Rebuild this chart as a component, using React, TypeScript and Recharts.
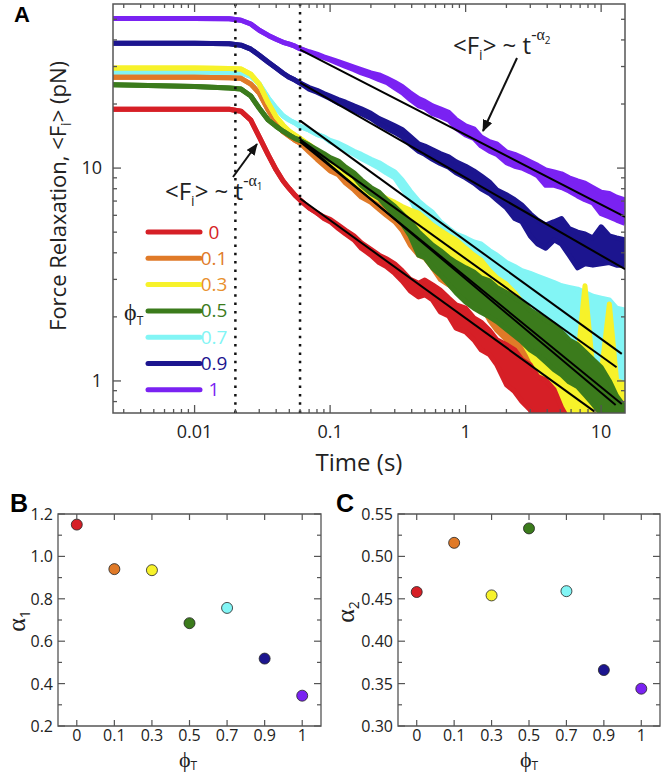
import React from "react";
import {
  ComposedChart,
  Area,
  Line,
  XAxis,
  YAxis,
  ReferenceLine,
  ReferenceArea,
  ScatterChart,
  Scatter,
} from "recharts";

// ---------- data ----------
const times = [
  0.0025, 0.01, 0.018, 0.022, 0.026, 0.03, 0.035, 0.04, 0.045, 0.05,
  0.055, 0.06, 0.07, 0.08, 0.09, 0.1, 0.115, 0.13, 0.15, 0.17,
  0.2, 0.23, 0.26, 0.3, 0.34, 0.39, 0.45, 0.5, 0.57, 0.65,
  0.75, 0.85, 1.0, 1.15, 1.3, 1.5, 1.7, 2.0, 2.3, 2.6,
  3.0, 3.4, 3.9, 4.5, 5.1, 5.8, 6.7, 7.6, 8.7, 10,
  11.5, 13, 15,
];

// phi_T = 0 (red)
const f0Hi = [
  18.9, 18.9, 18.9, 18.5, 16.8, 14.0, 11.5, 9.8, 8.7, 8.0,
  7.46, 7.08, 6.5, 6.15, 5.9, 5.75, 5.4, 5.1, 4.8, 4.45,
  4.15, 3.9, 3.75, 3.55, 3.3, 3.0, 2.88, 2.98, 2.83, 2.67,
  2.45, 2.28, 2.2, 1.98, 1.89, 1.73, 1.56, 1.48, 1.4, 1.26,
  1.19, 1.05, 1.01, 0.91, 0.75, 0.65, 0.6, 0.6, 0.6, 0.6,
  0.6, 0.6, 0.6,
];
const f0Lo = [
  18.9, 18.9, 18.9, 18.5, 16.8, 14.0, 11.5, 9.8, 8.7, 8.0,
  7.46, 7.08, 6.5, 6.15, 5.8, 5.6, 5.2, 4.9, 4.6, 4.2,
  3.9, 3.6, 3.45, 3.2, 2.95, 2.65, 2.48, 2.54, 2.4, 2.11,
  2.02, 1.77, 1.7, 1.56, 1.4, 1.33, 1.19, 0.96, 0.89, 0.8,
  0.73, 0.6, 0.5, 0.5, 0.45, 0.45, 0.4, 0.4, 0.4, 0.4,
  0.4, 0.4, 0.4,
];
// phi_T = 0.1 (orange)
const f01Hi = [
  26.7, 26.7, 26.6, 26.4, 24.8, 22.5, 18.7, 16.3, 14.8, 14.1,
  13.5, 13.1, 12.1, 11.3, 10.6, 10.1, 9.7, 8.9, 8.3, 7.8,
  7.4, 6.9, 6.6, 6.2, 5.8, 5.2, 4.85, 4.5, 4.2, 4.0,
  3.8, 3.6, 3.4, 3.5, 3.15, 2.85, 2.4, 2.15, 1.93, 1.73,
  1.56, 1.48, 1.26, 1.13, 1.03, 1.01, 0.93, 0.92, 0.89, 0.91,
  0.86, 0.82, 0.77,
];
const f01Lo = [
  26.7, 26.7, 26.6, 26.4, 24.8, 22.5, 18.7, 16.3, 14.8, 14.1,
  13.5, 13.1, 11.9, 11.0, 10.3, 9.7, 9.3, 8.5, 7.9, 7.3,
  6.9, 6.4, 6.0, 5.6, 5.1, 4.35, 3.9, 3.78, 3.4, 3.0,
  2.83, 2.67, 2.45, 2.35, 2.28, 1.93, 1.73, 1.56, 1.26, 1.07,
  0.8, 0.6, 0.6, 0.6, 0.55, 0.55, 0.55, 0.5, 0.5, 0.5,
  0.5, 0.5, 0.5,
];
// phi_T = 0.3 (yellow)
const f03Hi = [
  29.5, 29.5, 29.4, 29.2, 27.6, 24.8, 20.2, 17.4, 15.9, 14.9,
  14.3, 13.8, 12.9, 12.1, 11.4, 10.9, 10.3, 9.6, 9.0, 8.4,
  8.0, 7.6, 7.2, 6.9, 6.6, 6.35, 6.15, 5.8, 5.4, 5.1,
  4.8, 4.6, 4.2, 3.9, 3.7, 3.3, 3.05, 2.85, 2.6, 2.35,
  2.15, 2.0, 1.77, 1.64, 1.5, 1.33, 1.26, 2.8, 1.13, 1.07,
  2.3, 1.01, 0.96,
];
const f03Lo = [
  29.5, 29.5, 29.4, 29.2, 27.6, 24.8, 20.2, 17.4, 15.9, 14.9,
  14.3, 13.8, 12.7, 11.8, 11.1, 10.5, 9.9, 9.2, 8.6, 8.0,
  7.5, 7.1, 6.7, 6.3, 6.0, 5.7, 5.0, 4.85, 4.35, 3.9,
  3.5, 3.3, 3.0, 2.9, 2.7, 2.4, 2.3, 2.1, 1.85, 1.56,
  1.33, 1.13, 0.91, 0.6, 0.6, 0.6, 0.6, 0.6, 0.55, 0.55,
  0.55, 0.55, 0.55,
];
// phi_T = 0.5 (green)
const f05Hi = [
  24.6, 24.2, 23.8, 23.5, 21.8, 19.1, 16.8, 15.7, 14.9, 14.3,
  13.8, 13.5, 12.8, 12.2, 11.7, 11.2, 10.8, 10.1, 9.5, 8.8,
  8.1, 7.7, 7.1, 6.6, 6.1, 5.6, 5.0, 4.7, 4.35, 4.1,
  3.8, 3.6, 3.4, 3.25, 3.05, 2.95, 2.75, 2.6, 2.45, 2.35,
  2.15, 2.05, 1.93, 1.84, 1.7, 1.56, 1.48, 1.37, 1.26, 1.16,
  1.0, 0.85, 0.75,
];
const f05Lo = [
  24.6, 24.2, 23.8, 23.5, 21.8, 19.1, 16.8, 15.7, 14.9, 14.3,
  13.8, 13.5, 12.8, 12.0, 11.4, 10.9, 10.4, 9.7, 9.1, 8.3,
  7.6, 7.2, 6.6, 6.0, 5.5, 4.8, 3.9, 3.8, 3.4, 3.15,
  2.85, 2.6, 2.35, 2.2, 2.1, 2.0, 1.9, 1.75, 1.63, 1.53,
  1.4, 1.33, 1.23, 1.13, 1.07, 0.99, 0.94, 0.86, 0.78, 0.7,
  0.65, 0.6, 0.55,
];
// phi_T = 0.7 (cyan)
const f07Hi = [
  28.2, 28.2, 28.2, 28.0, 27.0, 24.8, 21.3, 19.1, 17.6, 16.8,
  16.3, 15.7, 15.1, 14.4, 14.0, 13.5, 13.1, 12.6, 12.0, 11.6,
  11.0, 10.6, 10.1, 9.6, 8.8, 7.8, 7.0, 6.6, 6.2, 5.6,
  5.2, 4.9, 4.7, 4.5, 4.4, 4.1, 3.9, 3.6, 3.45, 3.3,
  3.2, 3.1, 3.0, 2.9, 2.8, 2.75, 2.7, 2.6, 2.5, 2.45,
  2.4, 2.2, 2.15,
];
const f07Lo = [
  28.2, 28.2, 28.2, 28.0, 27.0, 24.8, 21.3, 19.1, 17.6, 16.8,
  16.3, 15.7, 15.1, 14.4, 14.0, 13.3, 12.8, 12.2, 11.6, 11.1,
  10.5, 10.0, 9.5, 9.0, 8.0, 7.2, 6.0, 5.6, 5.2, 4.7,
  4.2, 3.8, 3.5, 3.3, 3.1, 2.9, 2.7, 2.5, 2.3, 2.2,
  2.0, 1.9, 1.75, 1.65, 1.55, 1.45, 1.35, 1.25, 1.15, 1.05,
  0.95, 0.85, 0.8,
];
// phi_T = 0.9 (navy)
const f09Hi = [
  38.6, 38.6, 38.4, 37.8, 36.2, 33.9, 31.4, 29.5, 27.9, 26.7,
  25.9, 25.1, 23.9, 23.2, 22.4, 21.8, 21.0, 20.4, 19.6, 19.0,
  18.1, 17.1, 16.5, 15.8, 15.2, 14.1, 13.0, 12.7, 12.2, 11.7,
  11.3, 10.7, 10.2, 9.7, 9.2, 8.6, 7.9, 7.5, 7.1, 6.7,
  6.1, 5.7, 5.4, 5.6, 5.8, 5.2, 5.0, 4.9, 4.7, 5.3,
  4.8, 4.7, 4.6,
];
const f09Lo = [
  38.6, 38.6, 38.4, 37.8, 36.2, 33.9, 31.4, 29.5, 27.9, 26.7,
  25.9, 25.1, 23.5, 22.7, 21.9, 21.2, 20.2, 19.6, 18.7, 18.0,
  17.1, 16.1, 15.4, 14.7, 14.0, 12.9, 12.0, 11.6, 11.0, 10.5,
  10.1, 9.5, 9.0, 8.5, 8.0, 7.6, 7.1, 6.5, 5.8, 5.6,
  4.8, 4.4, 4.2, 4.6, 4.4, 3.9, 3.4, 3.55, 3.5, 3.55,
  3.6, 3.5, 3.5,
];
// phi_T = 1 (purple)
const f1Hi = [
  50.5, 50.5, 50.3, 49.5, 47.5, 44.4, 42.0, 40.3, 39.0, 38.2,
  37.4, 36.4, 35.2, 34.3, 33.3, 32.6, 31.6, 30.8, 29.8, 29.0,
  28.0, 27.4, 26.5, 25.3, 24.2, 22.6, 21.2, 20.6, 19.6, 19.0,
  18.3, 16.9, 15.8, 15.3, 14.0, 13.3, 13.0, 11.9, 11.6, 11.2,
  10.7, 10.3, 9.8, 9.6, 9.4, 9.0, 8.7, 8.5, 8.1, 7.7,
  7.6, 7.3, 7.1,
];
const f1Lo = [
  50.5, 50.5, 50.3, 49.5, 47.5, 44.4, 42.0, 40.3, 39.0, 38.2,
  37.4, 36.4, 35.0, 34.0, 33.0, 32.2, 31.0, 30.0, 29.0, 28.0,
  27.0, 26.0, 25.3, 23.8, 22.6, 21.0, 19.6, 19.2, 18.0, 17.5,
  16.8, 15.4, 14.3, 13.8, 12.7, 12.0, 11.6, 10.6, 10.2, 10.0,
  9.6, 9.2, 8.3, 8.3, 8.1, 7.8, 7.4, 7.1, 6.85, 6.1,
  5.9, 5.7, 5.5,
];

// power-law fits <F> ~ t^-alpha2, drawn from t = 0.06
const fitStartTime = 0.06;
const fitStartForce = [7.2, 13.3, 13.6, 13.6, 16.7, 25.2, 36];
const fitEndTime = [8.9, 14.2, 13.0, 12.8, 14.2, 15, 15];
const fitEndForce = [0.72, 0.78, 1.16, 0.77, 1.34, 3.35, 5.9];

const phiLabels = ["0", "0.1", "0.3", "0.5", "0.7", "0.9", "1"];
const alpha1 = [1.15, 0.94, 0.935, 0.685, 0.757, 0.518, 0.343];
const alpha2 = [0.458, 0.516, 0.454, 0.533, 0.459, 0.366, 0.344];

const timeTicks = [
  0.003, 0.004, 0.005, 0.006, 0.007, 0.008, 0.009, 0.01,
  0.02, 0.03, 0.04, 0.05, 0.06, 0.07, 0.08, 0.09, 0.1,
  0.2, 0.3, 0.4, 0.5, 0.6, 0.7, 0.8, 0.9, 1,
  2, 3, 4, 5, 6, 7, 8, 9, 10,
];
const timeMajor = [0.01, 0.1, 1, 10];
const forceTicks = [0.8, 0.9, 1, 2, 3, 4, 5, 6, 7, 8, 9, 10, 20, 30, 40, 50];
const forceMajor = [1, 10];
const alpha1Ticks = [0.2, 0.3, 0.4, 0.5, 0.6, 0.7, 0.8, 0.9, 1.0, 1.1, 1.2];
const alpha1Major = [0.2, 0.4, 0.6, 0.8, 1.0, 1.2];
const alpha2Ticks = [0.3, 0.325, 0.35, 0.375, 0.4, 0.425, 0.45, 0.475, 0.5, 0.525, 0.55];
const alpha2Major = [0.3, 0.35, 0.4, 0.45, 0.5, 0.55];

// ---------- styling ----------
const curveColors = ["#d61f26", "#e07a28", "#f7f22a", "#3b7b1c", "#82f5f5", "#1c158f", "#7a22f2"];
const labelColors = ["#d61f26", "#e07a28", "#e8902e", "#3b7b1c", "#82f5f5", "#1c158f", "#7a22f2"];
const drawOrder = [4, 1, 2, 3, 0, 5, 6];

const SANS = "'Open Sans', 'DejaVu Sans', sans-serif";
const SERIF = "'Liberation Serif', 'DejaVu Serif', serif";
const BOLD = "'Liberation Sans', Arial, sans-serif";
const AXIS = "#555";
const TEXT = "#222";

// plot box edges, only used to mirror tick marks on top / right
const A_TOP = 4;
const A_RIGHT = 625;
const BC_TOP = 24;
const B_RIGHT = 321;
const C_RIGHT = 320;

const curveHi = [f0Hi, f01Hi, f03Hi, f05Hi, f07Hi, f09Hi, f1Hi];
const curveLo = [f0Lo, f01Lo, f03Lo, f05Lo, f07Lo, f09Lo, f1Lo];

const rows = times.map((t, i) => {
  const r: Record<string, any> = { t };
  curveHi.forEach((hi, k) => {
    r[`c${k}`] = [curveLo[k][i], hi[i]];
  });
  return r;
});

const fits = fitStartForce.map((f, k) => [
  { t: fitStartTime, v: f },
  { t: fitEndTime[k], v: fitEndForce[k] },
]);

const alpha1Rows = alpha1.map((a, i) => ({ i, a }));
const alpha2Rows = alpha2.map((a, i) => ({ i, a }));
const phiIdx = phiLabels.map((_, i) => i);

const isIn = (list: number[], v: number) => list.some((m) => Math.abs(m - v) < 1e-9);

function TimeTick(p: any) {
  const { x, y, payload } = p;
  const v = payload.value as number;
  const major = isIn(timeMajor, v);
  const len = major ? 8 : 4;
  return (
    <g>
      <line x1={x} x2={x} y1={y} y2={y - len} stroke={AXIS} strokeWidth={1.3} />
      <line x1={x} x2={x} y1={A_TOP} y2={A_TOP + len} stroke={AXIS} strokeWidth={1.3} />
      {major && (
        <text x={x} y={y + 25} textAnchor="middle" fontSize={18} fill={TEXT} fontFamily={SANS}>
          {String(v)}
        </text>
      )}
    </g>
  );
}

function ForceTick(p: any) {
  const { x, y, payload } = p;
  const v = payload.value as number;
  const major = isIn(forceMajor, v);
  const len = major ? 8 : 4;
  return (
    <g>
      <line x1={x} x2={x + len} y1={y} y2={y} stroke={AXIS} strokeWidth={1.3} />
      <line x1={A_RIGHT} x2={A_RIGHT - len} y1={y} y2={y} stroke={AXIS} strokeWidth={1.3} />
      {major && (
        <text x={x - 11} y={y + 6} textAnchor="end" fontSize={18} fill={TEXT} fontFamily={SANS}>
          {String(v)}
        </text>
      )}
    </g>
  );
}

function catTick(p: any) {
  const { x, y, payload } = p;
  return (
    <g>
      <line x1={x} x2={x} y1={y} y2={y - 6} stroke={AXIS} strokeWidth={1.2} />
      <line x1={x} x2={x} y1={BC_TOP} y2={BC_TOP + 6} stroke={AXIS} strokeWidth={1.2} />
      <text x={x} y={y + 15} textAnchor="middle" fontSize={16} fill={TEXT} fontFamily={SANS}>
        {phiLabels[payload.value]}
      </text>
    </g>
  );
}

function alphaTick(right: number, majors: number[], digits: number) {
  return (p: any) => {
    const { x, y, payload } = p;
    const v = payload.value as number;
    const major = isIn(majors, v);
    const len = major ? 7 : 4;
    return (
      <g>
        <line x1={x} x2={x + len} y1={y} y2={y} stroke={AXIS} strokeWidth={1.2} />
        <line x1={right} x2={right - len} y1={y} y2={y} stroke={AXIS} strokeWidth={1.2} />
        {major && (
          <text x={x - 5} y={y + 6} textAnchor="end" fontSize={16} fill={TEXT} fontFamily={SANS}>
            {v.toFixed(digits)}
          </text>
        )}
      </g>
    );
  };
}

const Dot = (p: any) => (
  <circle cx={p.cx} cy={p.cy} r={5.5} fill={curveColors[p.payload.i]} stroke="#222" strokeWidth={0.8} />
);

function AlphaPanel({ data, ticks, majors, digits, domain, right }: any) {
  return (
    <ScatterChart width={330} height={287} margin={{ top: BC_TOP, right: 330 - right, bottom: 0, left: 0 }}>
      <XAxis
        dataKey="i"
        type="number"
        domain={[-0.5, 6.5]}
        allowDataOverflow
        ticks={phiIdx}
        interval={0}
        tick={catTick}
        tickLine={false}
        tickSize={0}
        tickMargin={0}
        axisLine={false}
        height={51}
      />
      <YAxis
        dataKey="a"
        type="number"
        domain={domain}
        allowDataOverflow
        ticks={ticks}
        interval={0}
        tick={alphaTick(right, majors, digits)}
        tickLine={false}
        tickSize={0}
        tickMargin={0}
        axisLine={false}
        width={58}
      />
      <ReferenceArea x1={-0.5} x2={6.5} y1={domain[0]} y2={domain[1]} fill="none" stroke={AXIS} strokeWidth={1.3} />
      <Scatter data={data} shape={Dot} isAnimationActive={false} />
    </ScatterChart>
  );
}

export default function App() {
  return (
    <div style={{ position: "absolute", left: 0, top: 0, width: 663, height: 777, background: "#fff", overflow: "hidden" }}>
      <div style={{ position: "absolute", left: 0, top: 0 }}>
        <ComposedChart width={663} height={470} data={rows} margin={{ top: A_TOP, right: 663 - A_RIGHT, bottom: 0, left: 0 }}>
          <XAxis
            dataKey="t"
            type="number"
            scale="log"
            domain={[0.0025, 15]}
            allowDataOverflow
            ticks={timeTicks}
            interval={0}
            tick={TimeTick}
            tickLine={false}
            tickSize={0}
            tickMargin={0}
            axisLine={false}
            height={57}
          />
          <YAxis
            type="number"
            scale="log"
            domain={[0.707, 59]}
            allowDataOverflow
            ticks={forceTicks}
            interval={0}
            tick={ForceTick}
            tickLine={false}
            tickSize={0}
            tickMargin={0}
            axisLine={false}
            width={113}
          />
          <ReferenceLine x={0.02} stroke="#111" strokeWidth={2.5} strokeDasharray="2.5 5.8" />
          <ReferenceLine x={0.06} stroke="#111" strokeWidth={2.5} strokeDasharray="2.5 5.8" />
          {drawOrder.map((k) => (
            <Area
              key={`c${k}`}
              dataKey={`c${k}`}
              type="linear"
              stroke={curveColors[k]}
              strokeWidth={5}
              strokeLinejoin="round"
              fill={curveColors[k]}
              fillOpacity={1}
              dot={false}
              activeDot={false}
              isAnimationActive={false}
            />
          ))}
          {fits.map((d, k) => (
            <Line
              key={`fit${k}`}
              data={d}
              dataKey="v"
              type="linear"
              stroke="#000"
              strokeWidth={2}
              dot={false}
              activeDot={false}
              isAnimationActive={false}
            />
          ))}
          <ReferenceArea x1={0.0025} x2={15} y1={0.707} y2={59} fill="none" stroke={AXIS} strokeWidth={1.5} />
        </ComposedChart>
      </div>
      <div style={{ position: "absolute", left: 0, top: 490 }}>
        <AlphaPanel data={alpha1Rows} ticks={alpha1Ticks} majors={alpha1Major} digits={1} domain={[0.2, 1.2]} right={B_RIGHT} />
      </div>
      <div style={{ position: "absolute", left: 340, top: 490 }}>
        <AlphaPanel data={alpha2Rows} ticks={alpha2Ticks} majors={alpha2Major} digits={2} domain={[0.3, 0.55]} right={C_RIGHT} />
      </div>

      <svg width={663} height={777} style={{ position: "absolute", left: 0, top: 0, pointerEvents: "none" }}>
        <defs>
          <marker id="ah" viewBox="0 0 12 10" refX={11} refY={5} markerWidth={12} markerHeight={10} markerUnits="userSpaceOnUse" orient="auto">
            <path d="M0,0 L12,5 L0,10 z" fill="#111" />
          </marker>
        </defs>

        <text x={14} y={22} fontFamily={BOLD} fontWeight="bold" fontSize={22} fill="#000">A</text>
        <text x={10} y={512} fontFamily={BOLD} fontWeight="bold" fontSize={25} fill="#000">B</text>
        <text x={336} y={512} fontFamily={BOLD} fontWeight="bold" fontSize={25} fill="#000">C</text>

        <text transform="translate(66,196) rotate(-90)" textAnchor="middle" fontFamily={SANS} fontSize={22} fill={TEXT}>
          Force Relaxation, &lt;F<tspan fontSize={14} dy={5}>i</tspan>
          <tspan dy={-5}>&gt; (pN)</tspan>
        </text>
        <text x={359} y={471} textAnchor="middle" fontFamily={SANS} fontSize={24} fill={TEXT}>Time (s)</text>

        <text x={453} y={54} fontFamily={SANS} fontSize={24} fill={TEXT}>
          &lt;F<tspan fontSize={14} dy={6}>i</tspan>
          <tspan dy={-6}>&gt; ~ t</tspan>
          <tspan fontFamily={SERIF} fontSize={16} dy={-14}>-α</tspan>
          <tspan fontSize={10} dy={4}>2</tspan>
        </text>
        <line x1={517} y1={58} x2={483} y2={131} stroke="#111" strokeWidth={2} markerEnd="url(#ah)" />

        <text x={165} y={200} fontFamily={SANS} fontSize={24} fill={TEXT}>
          &lt;F<tspan fontSize={14} dy={6}>i</tspan>
          <tspan dy={-6}>&gt; ~ t</tspan>
          <tspan fontFamily={SERIF} fontSize={16} dy={-14}>-α</tspan>
          <tspan fontSize={10} dy={4}>1</tspan>
        </text>
        <line x1={233} y1={177} x2={257} y2={144} stroke="#111" strokeWidth={2} markerEnd="url(#ah)" />

        {phiLabels.map((p, i) => (
          <g key={p}>
            <line x1={148} x2={200} y1={232 + i * 26.3} y2={232 + i * 26.3} stroke={curveColors[i]} strokeWidth={5} strokeLinecap="round" />
            <text x={214} y={232 + i * 26.3 + 6.5} textAnchor="middle" fontSize={19} fill={labelColors[i]} fontFamily={SANS}>{p}</text>
          </g>
        ))}
        <text x={124} y={320} fontFamily={SERIF} fontSize={24} fill={TEXT}>
          ϕ<tspan fontFamily={SANS} fontSize={12} dy={5}>T</tspan>
        </text>

        <text transform="translate(25,621) rotate(-90)" textAnchor="middle" fontFamily={SERIF} fontSize={26} fill={TEXT}>
          α<tspan fontFamily={SANS} fontSize={14} dy={5}>1</tspan>
        </text>
        <text transform="translate(354,612) rotate(-90)" textAnchor="middle" fontFamily={SERIF} fontSize={26} fill={TEXT}>
          α<tspan fontFamily={SANS} fontSize={14} dy={5}>2</tspan>
        </text>
        <text x={188} y={767} textAnchor="middle" fontFamily={SERIF} fontSize={22} fill={TEXT}>
          ϕ<tspan fontFamily={SANS} fontSize={12} dy={3}>T</tspan>
        </text>
        <text x={529} y={767} textAnchor="middle" fontFamily={SERIF} fontSize={22} fill={TEXT}>
          ϕ<tspan fontFamily={SANS} fontSize={12} dy={3}>T</tspan>
        </text>
      </svg>
    </div>
  );
}
